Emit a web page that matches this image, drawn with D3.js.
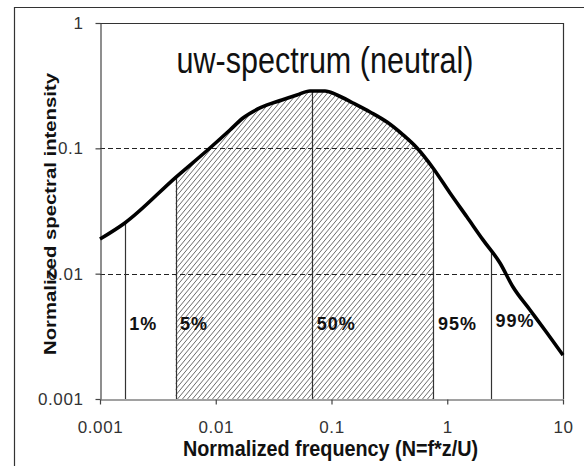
<!DOCTYPE html>
<html>
<head>
<meta charset="utf-8">
<script src="https://cdn.jsdelivr.net/npm/d3@7"></script>
<style>
  html, body { margin: 0; padding: 0; background: #fff; overflow: hidden; }
  svg { display: block; font-family: "Liberation Sans", Arial, sans-serif; }
</style>
</head>
<body>
<svg id="chart" width="584" height="466"></svg>
<script>
// ---- data ----
const freqN = [0.001, 0.00164, 0.00454, 0.00891, 0.01327, 0.0172, 0.0241, 0.0373, 0.0503, 0.0652, 0.0879,
               0.1115, 0.1534, 0.2153, 0.3016, 0.415, 0.548, 0.753, 1.056, 1.481, 2.037, 2.855, 3.70, 5.19, 7.28, 10];
const intensity = [0.0189, 0.0254, 0.059, 0.1006, 0.140, 0.1746, 0.210, 0.243, 0.2665, 0.2867, 0.2867,
                   0.2665, 0.230, 0.195, 0.162, 0.128, 0.1006, 0.0697, 0.0440, 0.0283, 0.0186, 0.01217, 0.00783, 0.00513, 0.00336, 0.00224];
const pctLabels = ["1%", "5%", "50%", "95%", "99%"];
const pctN = [0.00164, 0.0045, 0.0683, 0.759, 2.39];
const xTicks = [0.001, 0.01, 0.1, 1, 10];
const xTickLabels = ["0.001", "0.01", "0.1", "1", "10"];
const yTicks = [0.001, 0.01, 0.1, 1];
const yTickLabels = ["0.001", "0.01", "0.1", "1"];
const gridValues = [0.01, 0.1];
const titleText = "uw-spectrum (neutral)";
const xTitle = "Normalized frequency (N=f*z/U)";
const yTitle = "Normalized spectral intensity";

// ---- layout ----
const L = 100, R = 563, T = 23, B = 399;
const svg = d3.select("#chart");
const x = d3.scaleLog().domain([0.001, 10]).range([L, R]);
const y = d3.scaleLog().domain([0.001, 1]).range([B, T]);
const pts = freqN.map((n, i) => [n, intensity[i]]);

function sAt(n) {
  for (let i = 0; i < pts.length - 1; i++) {
    const a = pts[i], b = pts[i + 1];
    if (n >= a[0] && n <= b[0]) {
      const t = (Math.log10(n) - Math.log10(a[0])) / (Math.log10(b[0]) - Math.log10(a[0]));
      return Math.pow(10, Math.log10(a[1]) + t * (Math.log10(b[1]) - Math.log10(a[1])));
    }
  }
  return pts[pts.length - 1][1];
}

svg.append("rect").attr("x", 0).attr("y", 0).attr("width", 584).attr("height", 466).attr("fill", "#fff");

// outer frame (left and top edges visible)
svg.append("path").attr("d", "M14.5,466V7.5H584").attr("fill", "none")
  .attr("stroke", "#333").attr("stroke-width", 1.2);

const defs = svg.append("defs");
const pat = defs.append("pattern").attr("id", "hatch").attr("patternUnits", "userSpaceOnUse")
  .attr("width", 5).attr("height", 6);
pat.append("path").attr("d", "M-5,6 L0,0 M0,6 L5,0 M5,6 L10,0")
  .attr("stroke", "#444").attr("stroke-width", 0.8).attr("fill", "none");
defs.append("clipPath").attr("id", "hclip").append("rect")
  .attr("x", x(pctN[1])).attr("y", T).attr("width", x(pctN[3]) - x(pctN[1])).attr("height", B - T);

const area = d3.area().x(d => x(d[0])).y0(y(0.001)).y1(d => y(d[1])).curve(d3.curveMonotoneX);
svg.append("path").datum(pts).attr("d", area).attr("fill", "url(#hatch)").attr("clip-path", "url(#hclip)");

// dashed grid
svg.selectAll("line.grid").data(gridValues).enter().append("line").attr("class", "grid")
  .attr("x1", L).attr("x2", R).attr("y1", d => Math.round(y(d)) + 0.5).attr("y2", d => Math.round(y(d)) + 0.5)
  .attr("stroke", "#222").attr("stroke-width", 1).attr("stroke-dasharray", "5,3");

// percentile lines
svg.selectAll("line.pct").data(pctN).enter().append("line").attr("class", "pct")
  .attr("x1", d => Math.round(x(d)) + 0.5).attr("x2", d => Math.round(x(d)) + 0.5)
  .attr("y1", B).attr("y2", d => y(sAt(d)))
  .attr("stroke", "#333").attr("stroke-width", 1.2);

// plot border (top/right)
svg.append("path").attr("d", `M${L},${T + 0.5}H${R + 0.5}V${B}`).attr("fill", "none")
  .attr("stroke", "#333").attr("stroke-width", 1.2);

// axes
const xAxis = d3.axisBottom(x).tickValues(xTicks).tickFormat((d, i) => xTickLabels[i]).tickSize(5).tickSizeOuter(0).tickPadding(16);
const gx = svg.append("g").attr("transform", `translate(0,${B + 0.5})`).call(xAxis);
const yAxis = d3.axisLeft(y).tickValues(yTicks).tickFormat((d, i) => yTickLabels[i]).tickSize(5).tickSizeOuter(0).tickPadding(12);
const gy = svg.append("g").attr("transform", `translate(${L + 0.5},0)`).call(yAxis);
[gx, gy].forEach(g => {
  g.select(".domain").attr("stroke", "#444").attr("stroke-width", 1.2);
  g.selectAll(".tick line").attr("stroke", "#444").attr("stroke-width", 1.2);
  g.selectAll(".tick text").attr("font-family", "'Liberation Sans', Arial, sans-serif")
    .attr("font-size", 17).attr("fill", "#333").attr("letter-spacing", "0.6px");
});

// curve
svg.append("path").datum(pts)
  .attr("d", d3.line().x(d => x(d[0])).y(d => y(d[1])).curve(d3.curveMonotoneX))
  .attr("fill", "none").attr("stroke", "#000").attr("stroke-width", 3.6)
  .attr("stroke-linejoin", "round").attr("stroke-linecap", "butt");

// percentile labels
svg.selectAll("text.pct").data(pctLabels).enter().append("text").attr("class", "pct")
  .attr("x", (d, i) => x(pctN[i]) + 4.5)
  .attr("y", (d, i) => i === 4 ? 327 : 330)
  .attr("font-size", 18).attr("font-weight", "bold").attr("letter-spacing", "1px")
  .attr("fill", "#111").text(d => d);

// title
svg.append("g").attr("transform", "translate(325,73) scale(1,1.25)")
  .append("text").attr("text-anchor", "middle").attr("font-size", 30)
  .attr("textLength", 297).attr("lengthAdjust", "spacingAndGlyphs")
  .attr("fill", "#111").text(titleText);

// x axis title
svg.append("g").attr("transform", "translate(330.5,456) scale(1,1.2)")
  .append("text").attr("text-anchor", "middle").attr("font-size", 19).attr("font-weight", "bold")
  .attr("textLength", 295).attr("lengthAdjust", "spacingAndGlyphs")
  .attr("fill", "#111").text(xTitle);

// y axis title
svg.append("g").attr("transform", "translate(56,214) rotate(-90)")
  .append("text").attr("text-anchor", "middle").attr("font-size", 17).attr("font-weight", "bold")
  .attr("textLength", 282).attr("lengthAdjust", "spacingAndGlyphs")
  .attr("fill", "#111").text(yTitle);

// keep the bottom-right margin clear
svg.append("rect").attr("x", 574).attr("y", 380).attr("width", 10).attr("height", 86).attr("fill", "#fff");
</script>
</body>
</html>
